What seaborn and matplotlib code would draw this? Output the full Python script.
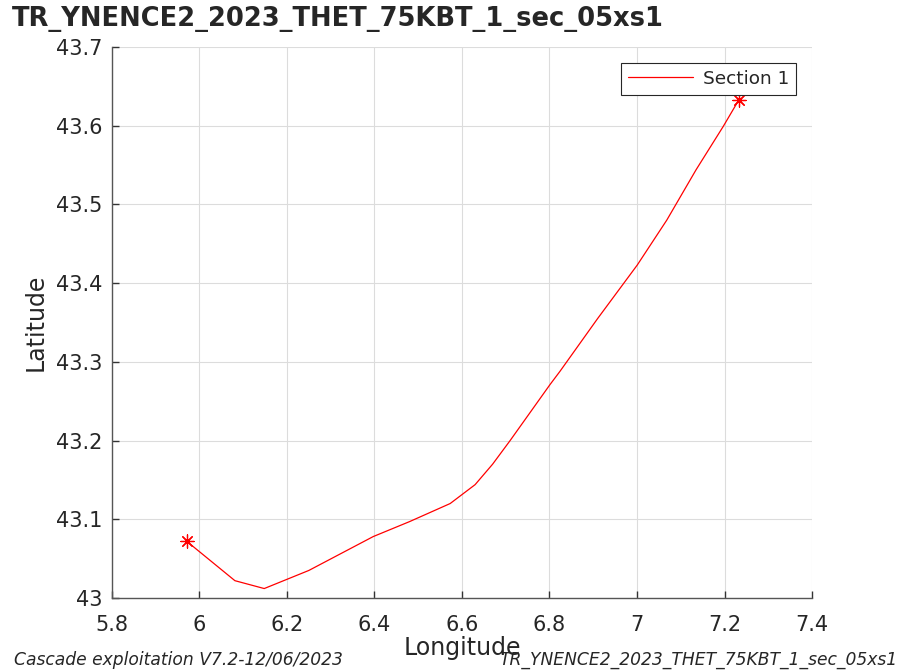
import pandas as pd
import matplotlib.pyplot as plt
import seaborn as sns
import numpy as np

# Section track
lon = [5.971, 6.081, 6.148, 6.25, 6.397, 6.48, 6.573, 6.630, 6.67, 6.710,
       6.801, 6.824, 6.91, 7.0006, 7.068, 7.135, 7.197, 7.233]
lat = [43.072, 43.022, 43.012, 43.035, 43.078, 43.097, 43.120, 43.144, 43.17, 43.200,
       43.271, 43.288, 43.355, 43.423, 43.480, 43.544, 43.599, 43.633]
section = ["Section 1"] * len(lon)

xticks = [5.8, 6, 6.2, 6.4, 6.6, 6.8, 7, 7.2, 7.4]
yticks = [43, 43.1, 43.2, 43.3, 43.4, 43.5, 43.6, 43.7]

title = "TR_YNENCE2_2023_THET_75KBT_1_sec_05xs1"
footer_left = "Cascade exploitation V7.2-12/06/2023"

df = pd.DataFrame({"lon": lon, "lat": lat, "section": section})
ends = df.iloc[[0, -1]]

sns.set_theme(style="whitegrid")
plt.rcParams['font.family'] = ['DejaVu Sans']

fig = plt.figure(figsize=(9.08, 6.71), dpi=100)
ax = fig.add_axes([0.1233, 0.1088, 0.7710, 0.8212])
ax.set_facecolor("white")

sns.lineplot(data=df, x="lon", y="lat", sort=False, estimator=None,
             color="red", linewidth=0.9, label="Section 1", ax=ax)
sns.scatterplot(data=ends, x="lon", y="lat", marker=(8, 2, 0), s=90,
                color="red", linewidth=0.9, ax=ax, legend=False)

ax.set_xlim(5.8, 7.4)
ax.set_ylim(43, 43.7)
ax.set_xticks(xticks)
ax.set_xticklabels([f"{v:g}" for v in xticks])
ax.set_yticks(yticks)
ax.set_yticklabels([f"{v:g}" for v in yticks])
ax.grid(True, color="#dcdcdc", linewidth=0.8)
for s in ["top", "right"]:
    ax.spines[s].set_visible(False)
for s in ["left", "bottom"]:
    ax.spines[s].set_color("#555555")
    ax.spines[s].set_linewidth(1.0)
ax.tick_params(axis="x", pad=12)
ax.tick_params(axis="y", pad=7)
ax.tick_params(axis="both", direction="in", length=5, width=1, color="#333333",
               labelsize=15, labelcolor="#262626", left=True, bottom=True)

ax.set_xlabel("Longitude", fontsize=17, color="#262626", labelpad=1)
ax.set_ylabel("Latitude", fontsize=17, color="#262626", labelpad=6)

leg = ax.legend(loc="upper right", fontsize=13.3, frameon=True, fancybox=False,
                edgecolor="#262626", framealpha=1, handlelength=3.5,
                handletextpad=0.55, borderaxespad=0.85, borderpad=0.38)
leg.get_frame().set_linewidth(0.8)

fig.text(0.013, 0.972, title, fontsize=18.5, fontweight="bold", ha="left", va="center")
fig.text(0.015, 0.016, footer_left, fontsize=12.3, style="italic", ha="left", va="center")
fig.text(0.988, 0.016, title, fontsize=12.3, style="italic", ha="right", va="center")

plt.savefig("out.png", dpi=100)
